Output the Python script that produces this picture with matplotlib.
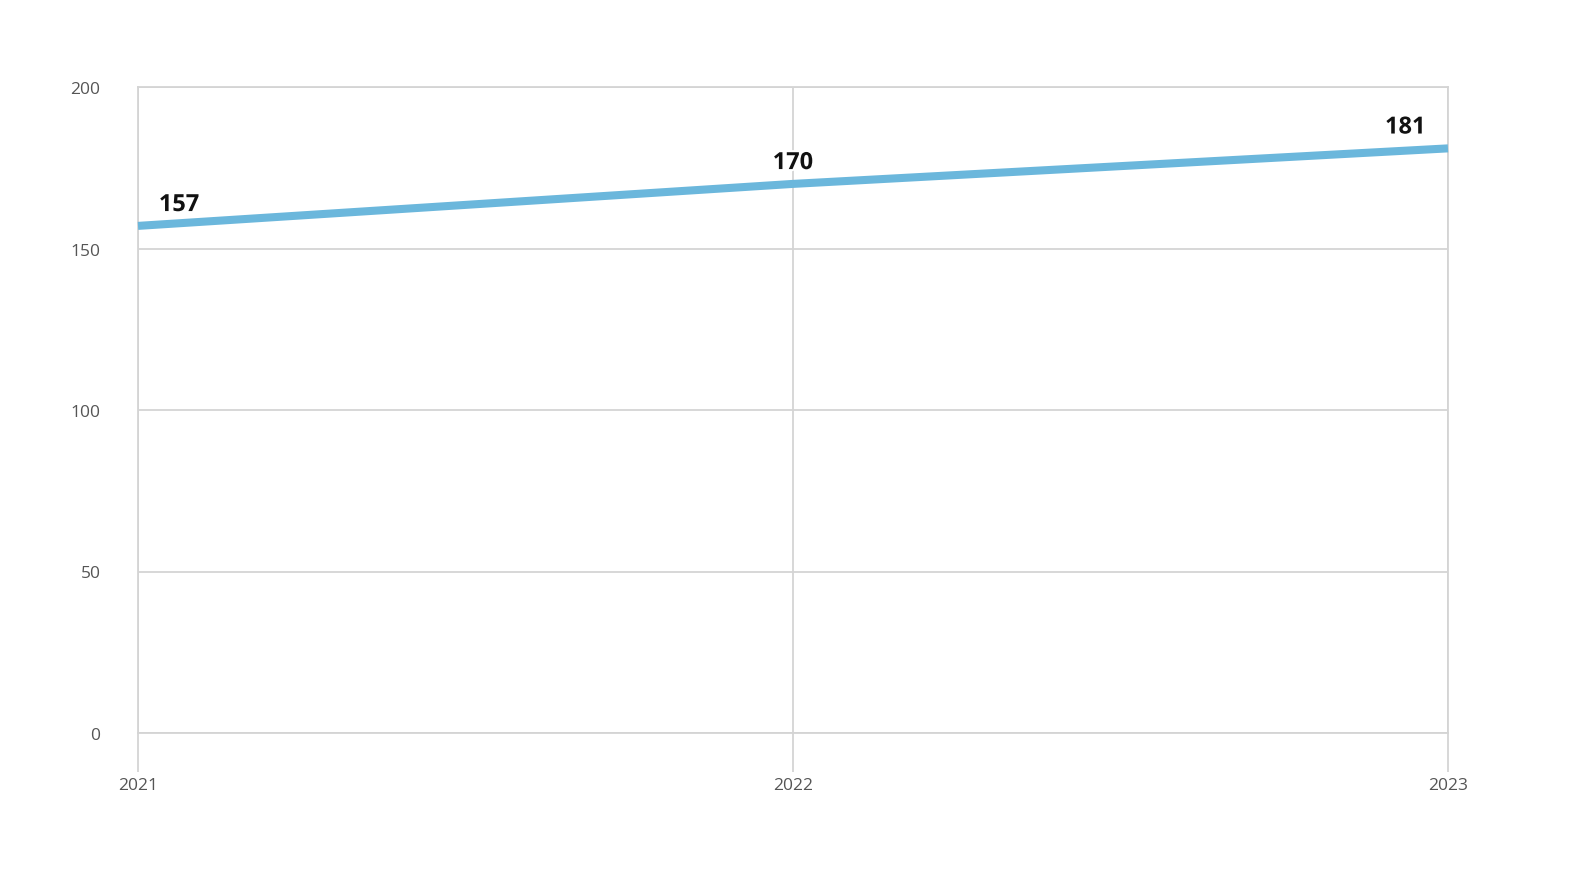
import matplotlib
matplotlib.use("Agg")
import matplotlib.pyplot as plt
import matplotlib.patheffects as pe

years = ["2021", "2022", "2023"]
values = [157, 170, 181]
yticks = [0, 50, 100, 150, 200]

plt.rcParams['font.family'] = ['Open Sans', 'DejaVu Sans']

fig = plt.figure(figsize=(15.84, 8.95), dpi=100)
ax = fig.add_axes([138/1584, 1-734/895, (1448-138)/1584, (734-88)/895])

x = list(range(len(years)))
ax.plot(x, values, color='#6bb7dc', linewidth=5.8, solid_capstyle='butt', zorder=3, clip_on=False)

ax.set_xlim(0, len(years)-1)
ax.set_ylim(0, 200)
ax.set_yticks(yticks)
ax.set_yticklabels([str(t) for t in yticks])
ax.set_xticks(x)
ax.set_xticklabels(years)

grid_c = '#d4d4d4'
ax.grid(True, color=grid_c, linewidth=1.3)
ax.set_axisbelow(True)
for s in ax.spines.values():
    s.set_color(grid_c)
    s.set_linewidth(1.3)

ax.tick_params(axis='y', length=0, pad=27, labelsize=12.5, labelcolor='#555555')
ax.tick_params(axis='x', length=28, width=1.3, color=grid_c, pad=4, labelsize=12.5, labelcolor='#555555')

offsets = [(15, 15, 'left'), (0, 15, 'center'), (-16, 15, 'right')]
for i, v in enumerate(values):
    dx, dy, ha = offsets[i]
    ax.annotate(str(v), (x[i], v), xytext=(dx, dy), textcoords='offset points',
                ha=ha, va='center', fontsize=17, fontweight='bold', color='#111111',
                path_effects=[pe.withStroke(linewidth=3, foreground='white')], zorder=5)

fig.savefig('out.png', dpi=100)
